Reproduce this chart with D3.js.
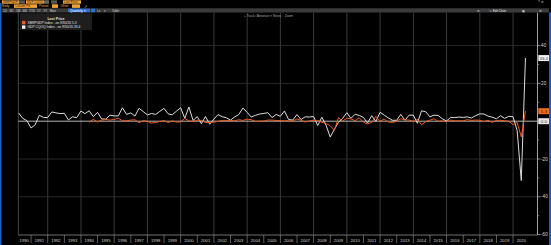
<!DOCTYPE html>
<html><head><meta charset="utf-8">
<script src="https://cdn.jsdelivr.net/npm/d3@7"></script>
<style>
html,body{margin:0;padding:0;background:#000;overflow:hidden}
svg{display:block}
text{font-family:"Liberation Sans",Arial,sans-serif}
</style>
</head><body>
<svg id="c" width="551" height="245"></svg>
<script>
// ---------- data ----------
const yearLabels = ["1990","1991","1992","1993","1994","1995","1996","1997","1998","1999",
  "2000","2001","2002","2003","2004","2005","2006","2007","2008","2009",
  "2010","2011","2012","2013","2014","2015","2016","2017","2018","2019","2020"];
const gridYears = [1992,1994,1996,1998,2000,2002,2004,2006,2008,2010,2012,2014,2016,2018,2020];
const yMajorTicks = [40,20,0,-20,-40,-60];
const yMinorTicks = [30,10,-10,-30,-50];

// white series: GDP CQOQ Index, quarterly from 1990 Q1
const whiteStart = {year:1990, q:1};
const whiteValues = [
  4.4,1.5,0.3,-3.6,  -1.9,3.1,2.0,1.9,  4.9,4.4,4.0,4.2,  0.7,2.3,1.9,5.4,
  4.0,5.5,2.4,4.7,   1.2,1.1,3.2,2.8,   2.8,7.1,3.6,4.4,  2.7,6.8,5.1,3.3,
  4.1,3.6,5.2,6.8,   3.9,3.4,5.3,7.1,   1.5,7.5,0.4,2.4,  -1.3,2.5,-1.6,1.1,
  3.5,2.4,1.8,0.6,   2.2,3.5,7.0,4.7,   2.2,3.1,3.8,4.1,  4.5,1.9,3.6,2.6,
  5.4,0.9,0.6,3.5,   0.9,2.3,2.2,2.5,   -2.3,2.1,-2.1,-8.4, -4.4,-0.6,1.5,4.5,
  1.5,3.7,3.0,2.0,   -1.0,2.9,-0.1,4.7, 3.2,1.7,0.5,0.5,  3.6,0.5,3.2,3.2,
  -1.1,5.5,5.0,2.3,  3.2,3.0,1.3,0.1,   2.0,1.9,2.2,2.0,  2.3,1.7,2.9,3.9,
  3.8,2.7,2.1,1.3,   2.9,1.5,2.6,2.4,   -5.0,-31.4,33.4
];
// orange series: quarterly from 1994 Q2
const orangeStart = {year:1994, q:2};
const orangeValues = [
  -0.5,1.0,-0.4,
  0.6,0.9,0.6,0.9,   1.6,0.2,0.2,0.6,   0.8,-0.8,0.3,-0.1, -1.0,-0.6,-0.2,0.3,
  -0.7,0.1,-0.4,-0.4, 1.5,0.1,-0.1,0.6, 0.4,-0.7,-0.6,-0.5, -0.1,0.4,0.4,0.4,
  0.2,0.8,0.4,1.1,   0.8,-0.1,0.0,0.1,  0.6,0.6,0.4,0.3,   0.2,0.3,0.0,1.2,
  0.5,-0.4,0.1,0.5,  0.4,-0.6,-1.2,-2.4, -4.8,1.9,0.1,1.6, 1.2,0.3,1.8,-0.5,
  -1.5,-0.6,2.5,0.0, 1.1,-0.4,-0.7,-0.1, 1.3,0.7,0.6,-0.1, 1.0,-1.9,-0.2,0.5,
  1.3,-0.1,0.2,-0.3, 0.6,0.2,0.2,0.2,   0.8,0.4,0.6,0.5,   -0.2,0.5,-0.6,0.4,
  0.5,0.2,0.0,-1.8,  -0.6,-8.3,5.3
];
const legendTitle = "Last Price";
const orangeName = "XBRPGDP Index  -  on 9/30/20  5.3";
const whiteName = "GDP CQOQ Index  -  on 9/30/20  33.4";
const lastLabels = [{v:33.4, t:"33.4", kind:"white"},{v:5.3, t:"5.3", kind:"orange"},{v:0, t:"0.0", kind:"zero"}];

// ---------- helpers ----------
function toSeries(start, vals){
  return vals.map((v,i)=>{
    const qi = start.q - 1 + i;
    const yr = start.year + Math.floor(qi/4);
    const q = qi % 4;
    return {date: new Date(yr, 3*(q+1), 0), v};
  });
}
const whiteData = toSeries(whiteStart, whiteValues);
const orangeData = toSeries(orangeStart, orangeValues);

const W = 551, H = 245;
const plotL = 18.3, plotR = 537.5, plotT = 12.5, plotB = 235;
const C = {bg:"#000", grid:"#474747", zero:"#c9c9c9", white:"#dcdcdc", orange:"#f05a1a",
  amber:"#eea23a", bar:"#3b3b3b", blue:"#1d5fbf"};

const svg = d3.select("#c");
svg.append("rect").attr("width",W).attr("height",H).attr("fill",C.bg);

const x = d3.scaleTime().domain([new Date(1990,0,1), new Date(2021,0,1)]).range([14.5, 529.7]);
const y = d3.scaleLinear().domain([-60, 40]).range([234.6, 45.6]);

// ---------- grid ----------
const g = svg.append("g");
g.selectAll(".vg").data(gridYears).join("line")
  .attr("x1",d=>x(new Date(d,0,1))).attr("x2",d=>x(new Date(d,0,1)))
  .attr("y1",plotT).attr("y2",plotB).attr("stroke",C.grid).attr("stroke-width",0.8);
g.append("line").attr("x1",plotL).attr("x2",plotL).attr("y1",plotT).attr("y2",plotB)
  .attr("stroke","#5a5a5a").attr("stroke-width",0.8);
g.selectAll(".hg").data(yMajorTicks.filter(d=>d!==0 && d!==-60)).join("line")
  .attr("x1",plotL).attr("x2",plotR).attr("y1",d=>y(d)).attr("y2",d=>y(d))
  .attr("stroke","#3a3a3a").attr("stroke-width",0.7);
g.append("line").attr("x1",plotL).attr("x2",plotR).attr("y1",y(0)).attr("y2",y(0))
  .attr("stroke",C.zero).attr("stroke-width",0.9);

// ---------- lines ----------
svg.append("clipPath").attr("id","clip").append("rect")
  .attr("x",plotL).attr("y",plotT).attr("width",plotR-plotL).attr("height",plotB-plotT);
const line = d3.line().x(d=>x(d.date)).y(d=>y(d.v));
const lg = svg.append("g").attr("clip-path","url(#clip)");
lg.append("path").datum(whiteData).attr("d",line).attr("fill","none")
  .attr("stroke",C.white).attr("stroke-width",1).attr("stroke-linejoin","round");
lg.append("path").datum(orangeData).attr("d",line).attr("fill","none")
  .attr("stroke",C.orange).attr("stroke-width",1).attr("stroke-linejoin","round");

// ---------- bottom axis ----------
svg.append("line").attr("x1",plotL).attr("x2",plotR).attr("y1",plotB).attr("y2",plotB)
  .attr("stroke","#8a8a8a").attr("stroke-width",0.8);
const xa = svg.append("g");
xa.selectAll(".sep").data(yearLabels.slice(1)).join("line")
  .attr("x1",d=>x(new Date(+d,0,1))).attr("x2",d=>x(new Date(+d,0,1)))
  .attr("y1",plotB).attr("y2",plotB+8).attr("stroke","#9a9a9a").attr("stroke-width",0.6);
xa.selectAll(".yl").data(yearLabels).join("text")
  .attr("x",d=>x(new Date(+d,6,1)) + (d==="1990"?1.5:0)).attr("y",242)
  .attr("text-anchor","middle").attr("font-size",4.2).attr("fill","#d0d0d0").text(d=>d);

// ---------- right axis ----------
svg.append("line").attr("x1",plotR).attr("x2",plotR).attr("y1",plotT).attr("y2",plotB)
  .attr("stroke","#b5b5b5").attr("stroke-width",0.9);
const ya = svg.append("g");
ya.selectAll(".mt").data(yMajorTicks).join("line")
  .attr("x1",plotR).attr("x2",plotR+3).attr("y1",d=>y(d)).attr("y2",d=>y(d))
  .attr("stroke","#c0c0c0").attr("stroke-width",0.7);
ya.selectAll(".nt").data(yMinorTicks).join("line")
  .attr("x1",plotR).attr("x2",plotR+1.8).attr("y1",d=>y(d)).attr("y2",d=>y(d))
  .attr("stroke","#a0a0a0").attr("stroke-width",0.6);
ya.selectAll(".ml").data(yMajorTicks.filter(d=>d!==0)).join("text")
  .attr("x",plotR+3.6).attr("y",d=>y(d)+1.6).attr("font-size",4.6)
  .attr("fill","#d8d8d8").text(d=>d);

// last value labels
const ll = svg.append("g");
lastLabels.forEach(L=>{
  const fill = L.kind==="orange" ? "#f26a1b" : (L.kind==="white" ? "#f2f2f2" : "#e6e6e6");
  ll.append("rect").attr("x",plotR+0.8).attr("y",y(L.v)-3).attr("width",11).attr("height",6).attr("fill",fill);
  ll.append("text").attr("x",plotR+6.3).attr("y",y(L.v)+1.6).attr("text-anchor","middle")
    .attr("font-size",4.4).attr("fill",L.kind==="orange"?"#3a1500":"#333").text(L.t);
});

// ---------- window chrome ----------
const ch = svg.append("g");
// blue edges
ch.append("rect").attr("x",0).attr("y",3).attr("width",1.5).attr("height",H-3).attr("fill",C.blue);
ch.append("rect").attr("x",549).attr("y",12.5).attr("width",2).attr("height",H-12.5).attr("fill",C.blue);
// row 1
const row1 = [[2,17,C.amber,"XBRPGDP"],[19,6,"#555",""],[26,18,C.amber,"GDP CQOQ"],[44,5,"#666",""],
  [51,6,"#555",""],[63,18,C.amber,"Last Price"]];
row1.forEach(r=>{
  ch.append("rect").attr("x",r[0]).attr("y",0.3).attr("width",r[1]).attr("height",3.4).attr("fill",r[2]);
  if(r[3]) ch.append("text").attr("x",r[0]+1).attr("y",3).attr("font-size",3).attr("fill","#3a2000").text(r[3]);
});
ch.append("text").attr("x",538).attr("y",3.3).attr("font-size",3.4).attr("fill","#bbb").text("? ⚙");
// row 2
ch.append("text").attr("x",2).attr("y",7.4).attr("font-size",3.2).attr("fill","#e8a040").text("Body");
ch.append("rect").attr("x",14).attr("y",4.3).attr("width",23).attr("height",3.6).attr("fill",C.amber);
ch.append("text").attr("x",15).attr("y",7.3).attr("font-size",3).attr("fill","#3a2000").text("Custom Pd");
ch.append("text").attr("x",39).attr("y",7.4).attr("font-size",3.2).attr("fill","#e8a040").text("Period");
ch.append("rect").attr("x",52).attr("y",4.3).attr("width",6).attr("height",3.6).attr("fill",C.amber);
ch.append("text").attr("x",60).attr("y",7.4).attr("font-size",3.2).attr("fill","#e8a040").text("Offset");
ch.append("rect").attr("x",72).attr("y",4.3).attr("width",8).attr("height",3.6).attr("fill",C.amber);
ch.append("text").attr("x",84).attr("y",7.6).attr("font-size",3.6).attr("fill","#ccc").text("↗");
// row 3 gray bar
ch.append("rect").attr("x",1.5).attr("y",8.3).attr("width",547.5).attr("height",4.2).attr("fill",C.bar);
const btns = ["1D","3D","1M","6M","YTD","1Y","5Y","Max"];
let bx = 3;
btns.forEach(b=>{
  ch.append("text").attr("x",bx).attr("y",11.5).attr("font-size",3).attr("fill","#cfcfcf").text(b);
  bx += b.length>2 ? 8 : 6.5;
});
ch.append("rect").attr("x",68).attr("y",8.6).attr("width",22).attr("height",3.6).attr("fill","#2f6fd6");
ch.append("text").attr("x",70).attr("y",11.5).attr("font-size",3.1).attr("fill","#fff").text("Quarterly ▾");
ch.append("rect").attr("x",91).attr("y",8.6).attr("width",4).attr("height",3.6).attr("fill","#2f6fd6");
ch.append("text").attr("x",97).attr("y",11.5).attr("font-size",3).attr("fill","#cfcfcf").text("Ls");
ch.append("text").attr("x",104).attr("y",11.5).attr("font-size",3).attr("fill","#cfcfcf").text("▾");
ch.append("text").attr("x",112).attr("y",11.5).attr("font-size",3).attr("fill","#cfcfcf").text("Table");
ch.append("text").attr("x",477).attr("y",11.5).attr("font-size",3).attr("fill","#cfcfcf").text("⚙");
ch.append("text").attr("x",489).attr("y",11.5).attr("font-size",3).attr("fill","#e6e6e6").text("✎ Edit Chart");
ch.append("text").attr("x",522).attr("y",11.5).attr("font-size",3).attr("fill","#cfcfcf").text("▣");
ch.append("text").attr("x",539).attr("y",11.5).attr("font-size",3).attr("fill","#cfcfcf").text("⚙");
// track/annotate
ch.append("text").attr("x",244).attr("y",16.6).attr("font-size",3.2).attr("fill","#a8a8a8")
  .text("+ Track   ⁄ Annotate   ≡ News   ◌ Zoom");

// ---------- legend ----------
const lgd = svg.append("g");
lgd.append("rect").attr("x",20).attr("y",13.3).attr("width",72).attr("height",16.8).attr("fill","#1e1e1e");
lgd.append("text").attr("x",56).attr("y",19.6).attr("text-anchor","middle").attr("font-size",3.6)
  .attr("font-weight","bold").attr("fill","#e0e0e0").text(legendTitle);
[[orangeName,C.orange,22.7],[whiteName,"#f0f0f0",27.2]].forEach(r=>{
  lgd.append("rect").attr("x",22).attr("y",r[2]-1.8).attr("width",3.4).attr("height",3.4).attr("fill",r[1]);
  lgd.append("text").attr("x",27.5).attr("y",r[2]+1.2).attr("font-size",3.3).attr("fill","#e6e6e6").text(r[0]);
});
</script>
</body></html>
